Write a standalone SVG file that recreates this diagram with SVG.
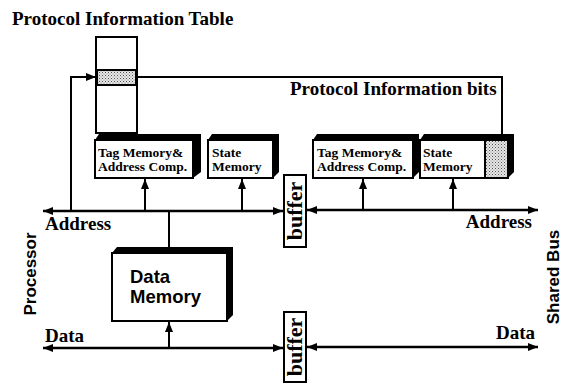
<svg xmlns="http://www.w3.org/2000/svg" width="563" height="383" viewBox="0 0 563 383">
<style>
.ln{stroke:#000;stroke-width:2;fill:none}
.bus{stroke:#000;stroke-width:2.5;fill:none}
.face{fill:#fff;stroke:#000;stroke-width:2}
.sh{fill:#000}
.ser{font-family:"Liberation Serif","Times New Roman",serif;font-weight:bold;fill:#000}
.san{font-family:"Liberation Sans",Arial,sans-serif;font-weight:bold;fill:#000}
.small{font-size:13.5px}
.big{font-size:19px}
</style>
<defs>
<pattern id="dots" width="3" height="3" patternUnits="userSpaceOnUse">
<rect width="3" height="3" fill="#e6e6e6"/>
<rect x="0" y="0" width="1" height="1" fill="#555"/>
<rect x="1.5" y="1.5" width="1" height="1" fill="#888"/>
</pattern>
<marker id="ah" viewBox="0 0 10 8" refX="10" refY="4" markerWidth="10" markerHeight="8" markerUnits="userSpaceOnUse" orient="auto-start-reverse">
<path d="M0,0 L10,4 L0,8 Z" fill="#000"/>
</marker>
</defs>

<rect width="563" height="383" fill="#fff"/>

<text class="ser big" x="12" y="25">Protocol Information Table</text>

<g id="pit">
<rect class="face" x="96" y="37" width="41" height="96"/>
<rect x="97" y="70" width="39" height="15" fill="url(#dots)" stroke="#000" stroke-width="2"/>
</g>

<g id="tag1">
<path class="sh" d="M95,140 L99,134 L201,134 L201,172 L193,178 Z"/>
<rect class="face" x="95" y="140" width="98" height="38"/>
<text class="ser small" x="98" y="157">Tag Memory&amp;</text>
<text class="ser small" x="98" y="171">Address Comp.</text>
</g>

<g id="state1">
<path class="sh" d="M208,140 L212,134 L279,134 L279,172 L273,178 Z"/>
<rect class="face" x="208" y="140" width="65" height="38"/>
<text class="ser small" x="212" y="157">State</text>
<text class="ser small" x="212" y="171">Memory</text>
</g>

<g id="tag2">
<path class="sh" d="M313,140 L317,134 L419,134 L419,172 L413,178 Z"/>
<rect class="face" x="313" y="140" width="100" height="38"/>
<text class="ser small" x="317" y="157">Tag Memory&amp;</text>
<text class="ser small" x="317" y="171">Address Comp.</text>
</g>

<g id="state2">
<path class="sh" d="M420,140 L424,134 L514,134 L514,172 L508,178 Z"/>
<rect class="face" x="420" y="140" width="88" height="38"/>
<rect x="485" y="141" width="22" height="36" fill="url(#dots)"/>
<line class="ln" x1="485" y1="140" x2="485" y2="178"/>
<text class="ser small" x="423" y="157">State</text>
<text class="ser small" x="423" y="171">Memory</text>
</g>

<g id="dataMemory">
<path class="sh" d="M112,253 L117,247 L233,247 L233,315 L227,321 Z"/>
<rect class="face" x="112" y="253" width="115" height="68"/>
<text class="san" style="font-size:18.5px" x="130" y="283">Data</text>
<text class="san" style="font-size:18.5px" x="130" y="303">Memory</text>
</g>

<g id="buffer1">
<rect class="face" x="284" y="175" width="22" height="72"/>
<text class="ser" style="font-size:22px" text-anchor="middle" transform="translate(302,211) rotate(-90)">buffer</text>
</g>

<g id="buffer2">
<rect class="face" x="284" y="312" width="22" height="70"/>
<text class="ser" style="font-size:22px" text-anchor="middle" transform="translate(302,347) rotate(-90)">buffer</text>
</g>

<g id="labels">
<text class="ser big" x="290" y="95">Protocol Information bits</text>
<text class="ser" style="font-size:19px" x="45" y="230">Address</text>
<text class="ser" style="font-size:19px" x="532" y="228" text-anchor="end">Address</text>
<text class="ser" style="font-size:19px" x="45" y="342">Data</text>
<text class="ser" style="font-size:19px" x="535" y="339" text-anchor="end">Data</text>
<text class="san" style="font-size:17px" text-anchor="middle" transform="translate(36,274) rotate(-90)">Processor</text>
<text class="san" style="font-size:17px" text-anchor="middle" transform="translate(559,277) rotate(-90)">Shared Bus</text>
</g>

<g id="connectors">
<line class="bus" x1="43" y1="211" x2="283" y2="211" marker-start="url(#ah)" marker-end="url(#ah)"/>
<line class="bus" x1="307" y1="210" x2="538" y2="210" marker-start="url(#ah)" marker-end="url(#ah)"/>
<line class="bus" x1="43" y1="348" x2="283" y2="348" marker-start="url(#ah)" marker-end="url(#ah)"/>
<line class="bus" x1="307" y1="347" x2="538" y2="347" marker-start="url(#ah)" marker-end="url(#ah)"/>
<polyline class="ln" points="71,211 71,77 96,77" marker-end="url(#ah)"/>
<polyline class="ln" points="137,77 502,77 502,134"/>
<line class="ln" x1="145" y1="211" x2="145" y2="179" marker-end="url(#ah)"/>
<line class="ln" x1="242" y1="211" x2="242" y2="179" marker-end="url(#ah)"/>
<line class="ln" x1="363" y1="210" x2="363" y2="179" marker-end="url(#ah)"/>
<line class="ln" x1="453" y1="210" x2="453" y2="179" marker-end="url(#ah)"/>
<line class="ln" x1="169" y1="211" x2="169" y2="247"/>
<line class="ln" x1="169" y1="347" x2="169" y2="322" marker-end="url(#ah)"/>
</g>
</svg>
